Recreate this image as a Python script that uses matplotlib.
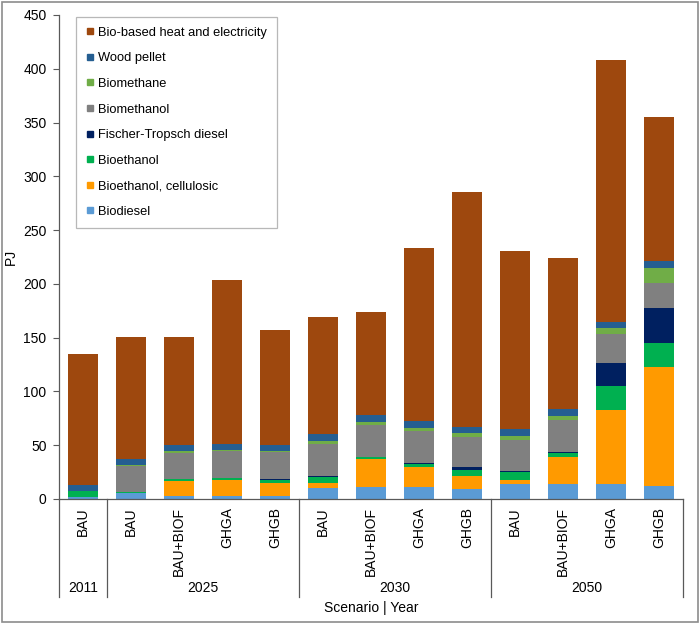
import matplotlib
matplotlib.use('Agg')
import matplotlib.pyplot as plt
import matplotlib.transforms as mtransforms
from matplotlib.lines import Line2D
from matplotlib.patches import Rectangle
import numpy as np

plt.rcParams['font.family'] = ['Liberation Sans', 'DejaVu Sans']

scenarios = ['BAU', 'BAU', 'BAU+BIOF', 'GHGA', 'GHGB', 'BAU', 'BAU+BIOF', 'GHGA', 'GHGB',
             'BAU', 'BAU+BIOF', 'GHGA', 'GHGB']
years = ['2011', '2025', '2030', '2050']
year_sizes = [1, 4, 4, 4]

# stacked from bottom to top
biodiesel = [2, 5.5, 3, 3, 3, 10.5, 11.2, 11, 9, 13.5, 14, 13.7, 12.4]
bioethanol_cell = [0, 0, 14, 15, 12, 4.6, 26.3, 19.2, 12.4, 4.3, 24.8, 69.5, 110.6]
bioethanol = [5, 1, 1.5, 1.5, 3, 5.2, 1.5, 2.5, 6, 7, 3.7, 21.7, 22.3]
ft_diesel = [0, 0, 0.3, 0.3, 0.3, 0.8, 0, 0.8, 1.9, 1.5, 1.5, 21.7, 32.5]
biomethanol = [0, 24, 24, 24.5, 25, 30, 30, 29.7, 27.9, 28.8, 29.5, 27, 22.7]
biomethane = [0, 1.5, 1.5, 1.5, 1.5, 3, 2.5, 2.8, 3.7, 3.7, 3.7, 5.3, 14.5]
wood_pellet = [6, 5.5, 5.5, 5.5, 5.5, 6.2, 6.2, 6.2, 6.2, 6.2, 6.2, 5.6, 6.2]
heat_elec = [122, 113.5, 101, 152.7, 107, 108.7, 96.2, 161.4, 218.4, 165.9, 140.4, 243.7, 134.2]

series = [
    ('Biodiesel', biodiesel, '#5B9BD5'),
    ('Bioethanol, cellulosic', bioethanol_cell, '#FF9A00'),
    ('Bioethanol', bioethanol, '#00B050'),
    ('Fischer-Tropsch diesel', ft_diesel, '#002060'),
    ('Biomethanol', biomethanol, '#808080'),
    ('Biomethane', biomethane, '#70AD47'),
    ('Wood pellet', wood_pellet, '#255E91'),
    ('Bio-based heat and electricity', heat_elec, '#9E480E'),
]

fig = plt.figure(figsize=(7, 6.24), dpi=100)
ax = fig.add_axes([59/700, 125/624, 624/700, 484/624])

x = np.arange(len(scenarios))
bottom = np.zeros(len(scenarios))
for name, vals, col in series:
    ax.bar(x, vals, 0.64, bottom=bottom, color=col, label=name, zorder=2)
    bottom += np.array(vals)

ax.set_xlim(-0.5, len(scenarios) - 0.5)
ax.set_ylim(0, 450)
ax.set_yticks(np.arange(0, 451, 50))
ax.tick_params(axis='y', direction='out', length=4, width=0.8, colors='#595959',
               labelsize=10, labelcolor='black', pad=5)
ax.set_xticks([])
for s in ['top', 'right']:
    ax.spines[s].set_visible(False)
for s in ['left', 'bottom']:
    ax.spines[s].set_color('#595959')
    ax.spines[s].set_linewidth(0.9)
ax.set_ylabel('PJ', fontsize=10)
ax.yaxis.set_label_coords(-41/624, 0.5)

# multi-level category axis
trans = mtransforms.blended_transform_factory(ax.transData, ax.transAxes)
px = 1 / 484
for i, lab in enumerate(scenarios):
    ax.text(i, -8 * px, lab, rotation=90, ha='center', va='top', fontsize=10,
            transform=trans)
edges = np.concatenate([[-0.5], np.cumsum(year_sizes) - 0.5])
for e in edges:
    ax.plot([e, e], [0, -98 * px], color='#595959', lw=0.9, transform=trans, clip_on=False)
for k, yr in enumerate(years):
    ax.text((edges[k] + edges[k + 1]) / 2, -89 * px, yr, ha='center', va='center',
            fontsize=10, transform=trans)
ax.text(0.5, -109 * px, 'Scenario | Year', ha='center', va='center', fontsize=10,
        transform=ax.transAxes)

handles = [Line2D([], [], marker='s', linestyle='none', markersize=5, color=c)
           for _, _, c in series][::-1]
labels = [n for n, _, _ in series][::-1]
leg = ax.legend(handles, labels, loc='upper left', bbox_to_anchor=(17/624, 1 - 2/484),
                borderaxespad=0, frameon=True, fancybox=False, fontsize=9.3,
                labelspacing=1.05, handlelength=0.6, handletextpad=0.35,
                borderpad=0.75)
leg.get_frame().set_edgecolor('#A6A6A6')
leg.get_frame().set_linewidth(0.9)

fig.patches.append(Rectangle((0.003, 0.004), 0.994, 0.992, transform=fig.transFigure,
                             fill=False, edgecolor='#8C8C8C', linewidth=1.2))

fig.savefig('out.png', dpi=100)
